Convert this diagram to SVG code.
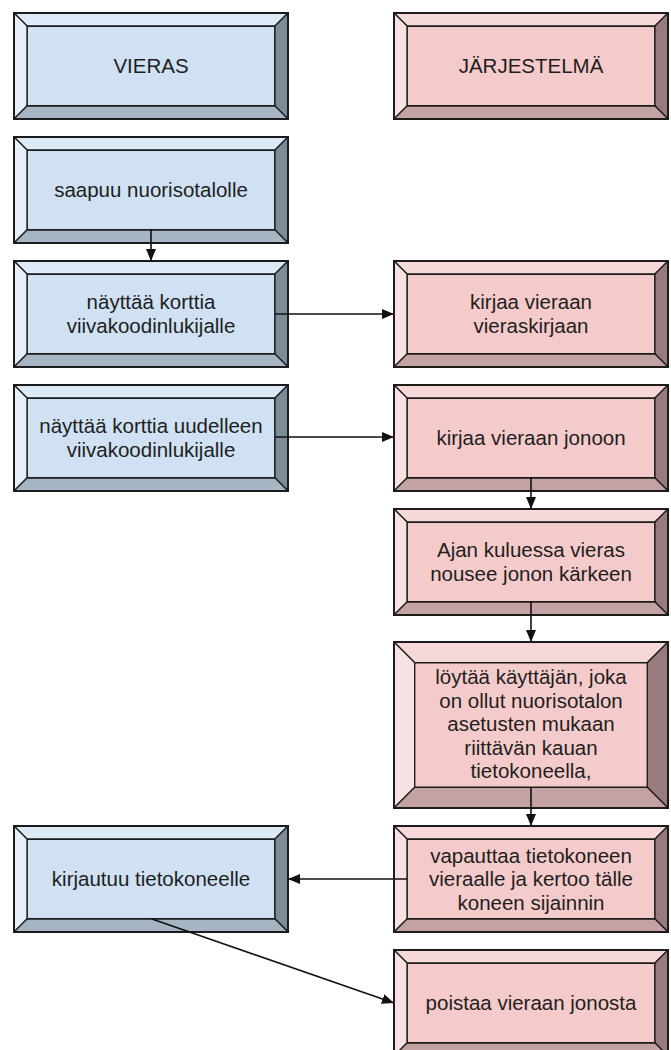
<svg xmlns="http://www.w3.org/2000/svg" xmlns:xlink="http://www.w3.org/1999/xlink" width="671" height="1050" viewBox="0 0 671 1050">
  <style>
    .facet { stroke: #1c1c1c; stroke-width: 1.3; stroke-linejoin: round; }
    .frame { fill: none; stroke: #1c1c1c; stroke-width: 2; }
    .top { fill: var(--top); }
    .left { fill: var(--left); }
    .right { fill: var(--right); }
    .bottom { fill: var(--bottom); }
    .face { fill: var(--face); }
    .blue { --top: #dce9f6; --left: #e4eff9; --right: #7e8b99; --bottom: #a6b5c4; --face: #cfe1f2; }
    .pink { --top: #f6d8d9; --left: #f8e1e2; --right: #967c7d; --bottom: #c4a2a3; --face: #f4caca; }
    .label { font-family: "Liberation Sans", Arial, sans-serif; font-size: 20.5px; fill: #1e1e1e; text-anchor: middle; }
    .link { fill: none; stroke: #111; stroke-width: 1.6; }
  </style>
  <defs>
    <!-- bevelled button, 274 x 106, bevel = height / 8 -->
    <g id="bevel">
      <polygon class="facet top" points="0,0 274,0 260.75,13.25 13.25,13.25"/>
      <polygon class="facet left" points="0,0 13.25,13.25 13.25,92.75 0,106"/>
      <polygon class="facet right" points="274,0 274,106 260.75,92.75 260.75,13.25"/>
      <polygon class="facet bottom" points="0,106 274,106 260.75,92.75 13.25,92.75"/>
      <rect class="facet face" x="13.25" y="13.25" width="247.5" height="79.5"/>
      <rect class="frame" x="0" y="0" width="274" height="106"/>
    </g>
    <!-- taller bevelled button, 274 x 166 -->
    <g id="bevelTall">
      <polygon class="facet top" points="0,0 274,0 253.25,20.75 20.75,20.75"/>
      <polygon class="facet left" points="0,0 20.75,20.75 20.75,145.25 0,166"/>
      <polygon class="facet right" points="274,0 274,166 253.25,145.25 253.25,20.75"/>
      <polygon class="facet bottom" points="0,166 274,166 253.25,145.25 20.75,145.25"/>
      <rect class="facet face" x="20.75" y="20.75" width="232.5" height="124.5"/>
      <rect class="frame" x="0" y="0" width="274" height="166"/>
    </g>
    <marker id="arrow" viewBox="0 0 12 10" refX="12" refY="5" markerWidth="12" markerHeight="10" markerUnits="userSpaceOnUse" orient="auto">
      <path d="M0,0 L12,5 L0,10 Z" fill="#111"/>
    </marker>
  </defs>

  <!-- guest column -->
  <g id="vieras" class="blue" transform="translate(14,13)">
    <use xlink:href="#bevel" href="#bevel"/>
    <text class="label" x="137" y="60">VIERAS</text>
  </g>
  <g id="saapuu" class="blue" transform="translate(14,137)">
    <use xlink:href="#bevel" href="#bevel"/>
    <text class="label" x="137" y="60">saapuu nuorisotalolle</text>
  </g>
  <g id="nayttaa" class="blue" transform="translate(14,261)">
    <use xlink:href="#bevel" href="#bevel"/>
    <text class="label" x="137" y="48">näyttää korttia</text>
    <text class="label" x="137" y="72">viivakoodinlukijalle</text>
  </g>
  <g id="nayttaa-uudelleen" class="blue" transform="translate(14,385)">
    <use xlink:href="#bevel" href="#bevel"/>
    <text class="label" x="137" y="48">näyttää korttia uudelleen</text>
    <text class="label" x="137" y="72">viivakoodinlukijalle</text>
  </g>
  <g id="kirjautuu" class="blue" transform="translate(14,826)">
    <use xlink:href="#bevel" href="#bevel"/>
    <text class="label" x="137" y="60">kirjautuu tietokoneelle</text>
  </g>

  <!-- system column -->
  <g id="jarjestelma" class="pink" transform="translate(394,13)">
    <use xlink:href="#bevel" href="#bevel"/>
    <text class="label" x="137" y="60">JÄRJESTELMÄ</text>
  </g>
  <g id="kirjaa-vieraskirjaan" class="pink" transform="translate(394,261)">
    <use xlink:href="#bevel" href="#bevel"/>
    <text class="label" x="137" y="48">kirjaa vieraan</text>
    <text class="label" x="137" y="72">vieraskirjaan</text>
  </g>
  <g id="kirjaa-jonoon" class="pink" transform="translate(394,385)">
    <use xlink:href="#bevel" href="#bevel"/>
    <text class="label" x="137" y="60">kirjaa vieraan jonoon</text>
  </g>
  <g id="jonon-karki" class="pink" transform="translate(394,509)">
    <use xlink:href="#bevel" href="#bevel"/>
    <text class="label" x="137" y="48">Ajan kuluessa vieras</text>
    <text class="label" x="137" y="72">nousee jonon kärkeen</text>
  </g>
  <g id="loytaa" class="pink" transform="translate(394,642)">
    <use xlink:href="#bevelTall" href="#bevelTall"/>
    <text class="label" x="137" y="42">löytää käyttäjän, joka</text>
    <text class="label" x="137" y="65.5">on ollut nuorisotalon</text>
    <text class="label" x="137" y="89">asetusten mukaan</text>
    <text class="label" x="137" y="112.5">riittävän kauan</text>
    <text class="label" x="137" y="136">tietokoneella,</text>
  </g>
  <g id="vapauttaa" class="pink" transform="translate(394,826)">
    <use xlink:href="#bevel" href="#bevel"/>
    <text class="label" x="137" y="36.5">vapauttaa tietokoneen</text>
    <text class="label" x="137" y="60">vieraalle ja kertoo tälle</text>
    <text class="label" x="137" y="83.5">koneen sijainnin</text>
  </g>
  <g id="poistaa" class="pink" transform="translate(394,950)">
    <use xlink:href="#bevel" href="#bevel"/>
    <text class="label" x="137" y="60">poistaa vieraan jonosta</text>
  </g>

  <!-- connectors, drawn over the bevels they leave from -->
  <g id="connectors">
    <line class="link" x1="151" y1="229" x2="151" y2="261" marker-end="url(#arrow)"/>
    <line class="link" x1="275" y1="314" x2="394" y2="314" marker-end="url(#arrow)"/>
    <line class="link" x1="275" y1="437" x2="394" y2="437" marker-end="url(#arrow)"/>
    <line class="link" x1="531" y1="477" x2="531" y2="509" marker-end="url(#arrow)"/>
    <line class="link" x1="531" y1="601" x2="531" y2="642" marker-end="url(#arrow)"/>
    <line class="link" x1="531" y1="787" x2="531" y2="826" marker-end="url(#arrow)"/>
    <line class="link" x1="407" y1="879" x2="288" y2="879" marker-end="url(#arrow)"/>
    <line class="link" x1="152" y1="919" x2="394" y2="1003" marker-end="url(#arrow)"/>
  </g>
</svg>
